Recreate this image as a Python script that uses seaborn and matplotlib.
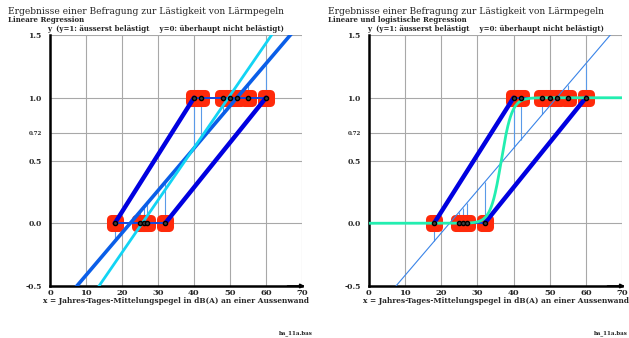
import numpy as np
import matplotlib
matplotlib.use("Agg")
import matplotlib.pyplot as plt
import seaborn as sns

# Survey answers: sound level x (dB(A)) for respondents with y=0 and y=1
x_not_annoyed = [18, 25, 26, 27, 32]
x_annoyed = [40, 42, 48, 50, 52, 55, 60]

# Logistic curve parameters (midpoint in dB(A), slope per dB(A))
logit_mid = 36.6
logit_slope = 0.68

x_ticks = [0, 10, 20, 30, 40, 50, 60, 70]
y_ticks = [-0.5, 0.0, 0.5, 0.72, 1.0, 1.5]
y_ticklabels = ["-0.5", "0.0", "0.5", "0.72", "1.0", "1.5"]

title = "Ergebnisse einer Befragung zur Lästigkeit von Lärmpegeln"
subtitles = ["Lineare Regression", "Lineare und logistische Regression"]
legend_text = "y  (y=1: äusserst belästigt    y=0: überhaupt nicht belästigt)"
xlabel = "x = Jahres-Tages-Mittelungspegel in dB(A) an einer Aussenwand"
file_tag = "ba_11a.bas"

sns.set_theme(style="white")
plt.rcParams["font.family"] = ["DejaVu Serif"]

W, H = 629, 338
fig = plt.figure(figsize=(W / 100, H / 100), dpi=100)
fig.patch.set_facecolor("white")

x = np.array(x_not_annoyed + x_annoyed, dtype=float)
y = np.array([0.0] * len(x_not_annoyed) + [1.0] * len(x_annoyed))

# least squares: y on x and x on y
b_yx, a_yx = np.polyfit(x, y, 1)
b_xy, a_xy = np.polyfit(y, x, 1)
xs = np.linspace(-10, 90, 400)


def px(xp, yp):
    return xp / W, 1 - yp / H


def base_panel(ax):
    ax.set_xlim(0, 70)
    ax.set_ylim(-0.5, 1.5)
    ax.set_xticks(x_ticks)
    ax.set_yticks(y_ticks)
    ax.set_xticklabels([str(t) for t in x_ticks], fontsize=6, fontweight="bold")
    ax.set_yticklabels(y_ticklabels, fontsize=5.5, fontweight="bold")
    for lab in ax.get_yticklabels():
        if lab.get_text() == "0.72":
            lab.set_fontsize(4)
    ax.tick_params(axis="both", length=0)
    ax.tick_params(axis="y", pad=6)
    ax.tick_params(axis="x", pad=2.5)
    ax.grid(True, color="#a8a8a8", lw=0.8)
    ax.set_axisbelow(True)
    for s in ["top", "right"]:
        ax.spines[s].set_visible(False)
    for s in ["left", "bottom"]:
        ax.spines[s].set_color("black")
        ax.spines[s].set_linewidth(1.8)
    ax.annotate("", xy=(70.8, -0.5), xytext=(66, -0.5), xycoords="data",
                arrowprops=dict(arrowstyle="-|>", color="black", lw=1.2,
                                mutation_scale=6, shrinkA=0, shrinkB=0),
                annotation_clip=False)


def points_and_frame(ax, resid_color):
    # residuals to the y-on-x line
    ax.vlines(x, y, a_yx + b_yx * x, color=resid_color, lw=0.8, zorder=2)
    pts = sns.scatterplot(x=x, y=y, ax=ax, marker="s", s=30, color="#ff2a0a",
                          edgecolor="#ff2a0a", linewidth=6.5, zorder=3, legend=False)
    pts.collections[-1].set_joinstyle("round")
    # connecting lines within each group
    ax.plot([min(x_not_annoyed), max(x_not_annoyed)], [0, 0], color="#1048e0", lw=1.4, zorder=4)
    ax.plot([min(x_annoyed), max(x_annoyed)], [1, 1], color="#1048e0", lw=1.4, zorder=4)
    # envelope of the two groups
    ax.plot([min(x_not_annoyed), min(x_annoyed)], [0, 1], color="#0000e0", lw=3.2,
            solid_capstyle="round", zorder=4)
    ax.plot([max(x_not_annoyed), max(x_annoyed)], [0, 1], color="#0000e0", lw=3.2,
            solid_capstyle="round", zorder=4)


def centre_dots(ax):
    sns.scatterplot(x=x, y=y, ax=ax, marker="o", s=9, color="#404040",
                    edgecolor="black", linewidth=1.0, zorder=7, legend=False)


# left panel: linear regressions
axL = fig.add_axes([50 / W, 1 - 286 / H, 252 / W, 251 / H])
base_panel(axL)
points_and_frame(axL, "#5a9ae8")
sns.lineplot(x=xs, y=a_yx + b_yx * xs, ax=axL, color="#0a5ee8", lw=2.6, zorder=5)
sns.lineplot(x=xs, y=(xs - a_xy) / b_xy, ax=axL, color="#12d4f4", lw=2.0, zorder=5)
centre_dots(axL)
axL.set_xlim(0, 70)
axL.set_ylim(-0.5, 1.5)

# right panel: linear and logistic regression
axR = fig.add_axes([369 / W, 1 - 286 / H, 253 / W, 251 / H])
base_panel(axR)
points_and_frame(axR, "#5a9ae8")
sns.lineplot(x=xs, y=a_yx + b_yx * xs, ax=axR, color="#3a84e8", lw=0.8, zorder=5)
xl = np.linspace(0, 70, 400)
sns.lineplot(x=xl, y=1 / (1 + np.exp(-logit_slope * (xl - logit_mid))), ax=axR,
             color="#22eeb0", lw=2.0, zorder=6)
centre_dots(axR)
axR.set_xlim(0, 70)
axR.set_ylim(-0.5, 1.5)

for ax in (axL, axR):
    ax.set_xlabel("")
    ax.set_ylabel("")

# texts
for x0, sub in ((8, subtitles[0]), (328, subtitles[1])):
    fig.text(*px(x0, 12), title, fontsize=6.6, ha="left", va="center")
    fig.text(*px(x0, 20), sub, fontsize=5, fontweight="bold", ha="left", va="center")
for x0 in (47, 367):
    fig.text(*px(x0, 29), legend_text, fontsize=5, fontweight="bold", ha="left", va="center")
fig.text(*px(176, 301), xlabel, fontsize=5.3, fontweight="bold", ha="center", va="center")
fig.text(*px(496, 301), xlabel, fontsize=5.3, fontweight="bold", ha="center", va="center")
fig.text(*px(279, 333), file_tag, fontsize=4.0, fontweight="bold", ha="left", va="center")
fig.text(*px(594, 333), file_tag, fontsize=4.0, fontweight="bold", ha="left", va="center")

fig.savefig("out.png", dpi=100, facecolor="white")
